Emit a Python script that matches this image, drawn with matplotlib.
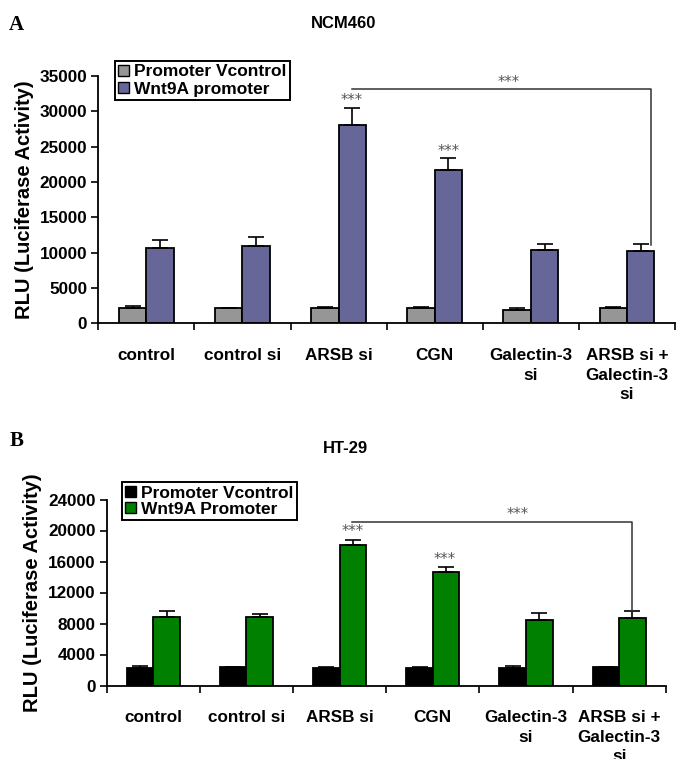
import matplotlib
matplotlib.use("Agg")
import matplotlib.pyplot as plt
from matplotlib.patches import Patch

plt.rcParams['font.family'] = ['Liberation Sans', 'DejaVu Sans']

categories = ["control", "control si", "ARSB si", "CGN", "Galectin-3\nsi", "ARSB si +\nGalectin-3\nsi"]

# Panel A: NCM460
vctrl_A = [2100, 2100, 2100, 2100, 1950, 2100]
vctrl_err_A = [400, 0, 150, 200, 150, 200]
wnt_A = [10600, 10900, 28000, 21700, 10400, 10200]
wnt_err_A = [1150, 1250, 2500, 1750, 800, 1000]
yticks_A = [0, 5000, 10000, 15000, 20000, 25000, 30000, 35000]

# Panel B: HT-29
vctrl_B = [2200, 2350, 2200, 2200, 2200, 2350]
vctrl_err_B = [300, 0, 150, 150, 300, 0]
wnt_B = [8850, 8850, 18100, 14600, 8500, 8700]
wnt_err_B = [800, 350, 700, 650, 850, 950]
yticks_B = [0, 4000, 8000, 12000, 16000, 20000, 24000]

W, H = 676, 759
fig = plt.figure(figsize=(W / 100, H / 100), dpi=100)


def panel(rect, v1, e1, v2, e2, c1, c2, yticks, labels, leg_xy, leg_gap,
          stars, bracket, title, title_xy, letter, letter_xy):
    ax = fig.add_axes(rect)
    n = len(v1)
    x = list(range(n))
    bw = 0.285
    x1 = [i - bw / 2 for i in x]
    x2 = [i + bw / 2 for i in x]
    ax.bar(x1, v1, width=bw, color=c1, edgecolor='black', linewidth=1.3, zorder=2)
    ax.bar(x2, v2, width=bw, color=c2, edgecolor='black', linewidth=1.3, zorder=2)
    ax.errorbar(x1, v1, yerr=[[0] * n, e1], fmt='none', ecolor='black',
                elinewidth=1.2, capsize=5.5, capthick=1.2, zorder=3)
    ax.errorbar(x2, v2, yerr=[[0] * n, e2], fmt='none', ecolor='black',
                elinewidth=1.2, capsize=5.5, capthick=1.2, zorder=3)
    ax.set_xlim(-0.5, n - 0.5)
    ax.set_ylim(yticks[0], yticks[-1])
    ax.set_yticks(yticks)
    ax.set_yticklabels([str(t) for t in yticks], fontsize=12.3, fontweight='bold')
    ax.tick_params(axis='y', direction='out', length=5, width=1.2, pad=3)
    ax.set_xticks(x)
    ax.set_xticklabels(labels, fontsize=12.3, fontweight='bold', linespacing=1.35, va='top')
    ax.tick_params(axis='x', which='major', length=0, pad=18)
    ax.set_xticks([i - 0.5 for i in range(n + 1)], minor=True)
    ax.tick_params(axis='x', which='minor', direction='out', length=5, width=1.2)
    for s in ['top', 'right']:
        ax.spines[s].set_visible(False)
    for s in ['left', 'bottom']:
        ax.spines[s].set_linewidth(1.3)
    ax.set_ylabel("RLU (Luciferase Activity)", fontsize=14.5, fontweight='bold', labelpad=4)

    handles = [Patch(facecolor=c1, edgecolor='black', linewidth=1.0),
               Patch(facecolor=c2, edgecolor='black', linewidth=1.0)]
    leg = fig.legend(handles, leg_gap[0], loc='upper left',
                     bbox_to_anchor=(leg_xy[0] / W, 1 - leg_xy[1] / H),
                     prop={'weight': 'bold', 'size': 12.5}, frameon=True,
                     fancybox=False, edgecolor='black', framealpha=1,
                     handlelength=0.6, handleheight=0.6, handletextpad=0.3,
                     borderpad=0.2, labelspacing=leg_gap[1], borderaxespad=0)
    leg.get_frame().set_linewidth(1.4)

    for sx, sy in stars:
        ax.text(sx, sy, '***', ha='center', va='center', fontsize=10.5,
                color='#555555', family='DejaVu Sans')
    bx0, bx1, by, bybot, lx, ly = bracket
    ax.plot([bx0, bx1, bx1], [by, by, bybot], color='#333333', lw=1.1,
            clip_on=False, zorder=4)
    ax.text(lx, ly, '***', ha='center', va='center', fontsize=10.5,
            color='#555555', family='DejaVu Sans')

    fig.text(title_xy[0] / W, 1 - title_xy[1] / H, title, ha='center', va='center',
             fontsize=12, fontweight='bold')
    fig.text(letter_xy[0] / W, 1 - letter_xy[1] / H, letter, ha='center', va='center',
             fontsize=15, fontweight='bold', family='Liberation Serif')
    return ax


panel([98.3 / W, 1 - 323.3 / H, (675 - 98.3) / W, (323.3 - 76) / H],
      vctrl_A, vctrl_err_A, wnt_A, wnt_err_A, '#969696', '#666699', yticks_A,
      categories, (115, 61), (["Promoter Vcontrol", "Wnt9A promoter"], 0.12),
      [(2.14, 31500), (3.14, 24300)],
      (2.138, 5.254, 33200, 11100, 3.77, 34100),
      "NCM460", (344, 24), "A", (16, 25))

panel([106.7 / W, 1 - 685.5 / H, (665.7 - 106.7) / W, (685.5 - 499.5) / H],
      vctrl_B, vctrl_err_B, wnt_B, wnt_err_B, '#000000', '#008000', yticks_B,
      categories, (121.7, 482.3), (["Promoter Vcontrol", "Wnt9A Promoter"], 0.05),
      [(2.14, 19900), (3.13, 16300)],
      (2.135, 5.136, 21100, 9650, 3.91, 22000),
      "HT-29", (345, 449), "B", (17, 441))

fig.savefig("out.png", dpi=100)
